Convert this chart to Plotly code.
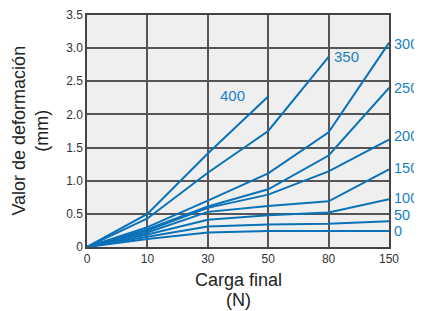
import plotly.graph_objects as go

x_labels = ["0", "10", "30", "50", "80", "150"]
x_idx = [0, 1, 2, 3, 4, 5]

series_names = ["0", "50", "100", "150", "200", "250", "300", "350", "400"]
s0 = [0, 0.12, 0.22, 0.24, 0.24, 0.24]
s50 = [0, 0.16, 0.31, 0.34, 0.35, 0.39]
s100 = [0, 0.19, 0.41, 0.48, 0.52, 0.72]
s150 = [0, 0.22, 0.53, 0.62, 0.69, 1.17]
s200 = [0, 0.25, 0.59, 0.79, 1.14, 1.62]
s250 = [0, 0.27, 0.61, 0.87, 1.38, 2.40]
s300 = [0, 0.30, 0.70, 1.11, 1.73, 3.08]
s350 = [0, 0.43, 1.12, 1.75, 2.87]
s400 = [0, 0.50, 1.41, 2.27]
series_values = [s0, s50, s100, s150, s200, s250, s300, s350, s400]

y_ticks = [0, 0.5, 1.0, 1.5, 2.0, 2.5, 3.0, 3.5]
y_tick_text = ["0", "0.5", "1.0", "1.5", "2.0", "2.5", "3.0", "3.5"]

# right-side label positions for the series ending at 150 N
right_labels = ["300", "250", "200", "150", "100", "50", "0"]
right_label_y = [3.06, 2.40, 1.67, 1.19, 0.735, 0.48, 0.235]

line_color = "#0a72b8"
label_color = "#1a7fc4"
FONT = "Liberation Sans, Arial"

fig = go.Figure()
for name, vals in zip(series_names, series_values):
    fig.add_trace(go.Scatter(
        x=x_idx[:len(vals)], y=vals, mode="lines", name=name,
        line=dict(color=line_color, width=2), showlegend=False,
        hoverinfo="skip"))

for t, yv in zip(right_labels, right_label_y):
    fig.add_annotation(x=1, xref="paper", y=yv, yref="y", text=t,
                       showarrow=False, xanchor="left", xshift=4,
                       borderpad=0,
                       font=dict(size=14.5, color=label_color, family=FONT))

fig.add_annotation(x=4, xref="x", y=s350[-1], yref="y", text="350",
                   showarrow=False, xanchor="left", xshift=3, yshift=0,
                   font=dict(size=15, color=label_color, family=FONT))
fig.add_annotation(x=2, xref="x", y=s400[-1], yref="y", text="400",
                   showarrow=False, xanchor="left", xshift=10, yshift=1,
                   font=dict(size=15, color=label_color, family=FONT))

# axis titles
fig.add_annotation(x=-0.19, xref="paper", y=0.5, yref="paper",
                   text="Valor de deformación<br>(mm)", textangle=-90,
                   showarrow=False, xanchor="center", yanchor="middle",
                   font=dict(size=18, color="#222222", family=FONT))
fig.add_annotation(x=0.5, xref="paper", y=-0.142, yref="paper",
                   text="Carga final", borderpad=0,
                   showarrow=False, xanchor="center", yanchor="middle",
                   font=dict(size=18, color="#222222", family=FONT))
fig.add_annotation(x=0.5, xref="paper", y=-0.228, yref="paper",
                   text="(N)", borderpad=0,
                   showarrow=False, xanchor="center", yanchor="middle",
                   font=dict(size=18, color="#222222", family=FONT))

fig.update_layout(
    width=414, height=303,
    margin=dict(l=79, r=33, t=7, b=64),
    paper_bgcolor="white",
    plot_bgcolor="#efefef",
    font=dict(family=FONT, color="#333333"),
    xaxis=dict(
        range=[0, 5], tickvals=x_idx, ticktext=x_labels, automargin=False,
        showgrid=True, gridcolor="#555555", gridwidth=1.5,
        showline=True, linecolor="#444444", linewidth=1.5, mirror=True,
        zeroline=False, ticks="", tickfont=dict(size=12, color="#333333"),
    ),
    yaxis=dict(
        range=[0, 3.5], tickvals=y_ticks, ticktext=y_tick_text, automargin=False,
        showgrid=True, gridcolor="#555555", gridwidth=1.5,
        showline=True, linecolor="#444444", linewidth=1.5, mirror=True,
        zeroline=False, ticks="", tickfont=dict(size=12, color="#333333"),
    ),
)

fig.write_html("out.html")
